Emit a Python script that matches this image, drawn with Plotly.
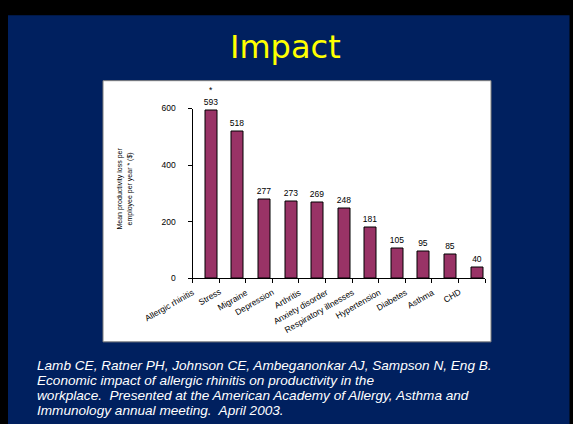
import plotly.graph_objects as go

categories = ["Allergic rhinitis", "Stress", "Migraine", "Depression", "Arthritis",
              "Anxiety disorder", "Respiratory illnesses", "Hypertension", "Diabetes",
              "Asthma", "CHD"]
values = [593, 518, 277, 273, 269, 248, 181, 105, 95, 85, 40]
notes = ["*", "", "", "", "", "", "", "", "", "", ""]
y_ticks = [0, 200, 400, 600]
title_text = "Impact"
y_title = "Mean productivity loss per<br>employee per year * ($)"
footer_lines = [
    "Lamb CE, Ratner PH, Johnson CE, Ambeganonkar AJ, Sampson N, Eng B.",
    "Economic impact of allergic rhinitis on productivity in the",
    "workplace.  Presented at the American Academy of Allergy, Asthma and",
    "Immunology annual meeting.  April 2003.",
]

W, H = 573, 424
NAVY = "#00205f"
BAR = "#993366"
ARIAL = "Arial, Liberation Sans, sans-serif"

def px_x(p):
    return p / W

def px_y(p):
    return 1 - p / H

fig = go.Figure()
fig.add_trace(go.Bar(
    x=categories, y=values,
    width=0.45, offset=-0.02,
    marker=dict(color=BAR, line=dict(color="#000000", width=1)),
    text=[str(v) for v in values], textposition="outside",
    constraintext="none",
    textfont=dict(family=ARIAL, size=8.5, color="#000000"),
    cliponaxis=False, hoverinfo="skip",
))

annotations = []
for c, v, n in zip(categories, values, notes):
    if n:
        annotations.append(dict(
            x=c, y=v, xref="x", yref="y", text=n, showarrow=False,
            xanchor="center", yanchor="bottom", xshift=5, yshift=13,
            font=dict(family=ARIAL, size=8.5, color="#000000"),
        ))

for c in categories:
    annotations.append(dict(
        x=c, y=0, xref="x", yref="y", text=c, showarrow=False,
        xanchor="right", yanchor="top", textangle=-30,
        xshift=-7, yshift=-6,
        font=dict(family=ARIAL, size=8.5, color="#000000"),
    ))

annotations.append(dict(
    x=px_x(125), y=px_y(188), xref="paper", yref="paper", text=y_title,
    showarrow=False, textangle=-90, xanchor="center", yanchor="middle",
    font=dict(family=ARIAL, size=7, color="#000000"),
))

annotations.append(dict(
    x=px_x(285.5), y=px_y(43), xref="paper", yref="paper", text=title_text,
    showarrow=False, xanchor="center", yanchor="middle",
    font=dict(family="DejaVu Sans", size=32, color="#ffff00"),
))

for i, line in enumerate(footer_lines):
    annotations.append(dict(
        x=px_x(35), y=px_y(369 + 15.6 * i), xref="paper", yref="paper",
        text="<i>" + line + "</i>", showarrow=False,
        xanchor="left", yanchor="middle",
        font=dict(family=ARIAL, size=13.6, color="#ffffff"),
    ))

shapes = [
    dict(type="rect", xref="paper", yref="paper", layer="below",
         x0=px_x(8), x1=px_x(569.5), y0=px_y(10.5), y1=px_y(430),
         fillcolor=NAVY, line=dict(width=0)),
    dict(type="rect", xref="paper", yref="paper", layer="below",
         x0=px_x(103), x1=px_x(491), y0=px_y(77.5), y1=px_y(345),
         fillcolor="#ffffff", line=dict(color="#7f7f7f", width=1)),
]

fig.update_layout(
    width=W, height=H,
    margin=dict(l=0, r=0, t=0, b=0),
    paper_bgcolor="#000000",
    plot_bgcolor="rgba(0,0,0,0)",
    showlegend=False,
    bargap=0,
    shapes=shapes,
    annotations=annotations,
    xaxis=dict(
        domain=[px_x(192.5), px_x(485)],
        type="category", range=[-0.5, len(categories) - 0.5],
        showline=True, linecolor="#000000", linewidth=1,
        ticks="outside", tickson="boundaries", ticklen=4, tickcolor="#000000",
        showticklabels=False, showgrid=False, zeroline=False, fixedrange=True,
    ),
    yaxis=dict(
        domain=[px_y(280), px_y(106)],
        range=[0, 600],
        tickvals=y_ticks,
        showline=True, linecolor="#000000", linewidth=1,
        ticks="outside", ticklen=4, tickcolor="#000000",
        tickfont=dict(family=ARIAL, size=8.5, color="#000000"),
        ticklabelstandoff=10,
        showgrid=False, zeroline=False, fixedrange=True,
    ),
)

fig.write_html("out.html")
